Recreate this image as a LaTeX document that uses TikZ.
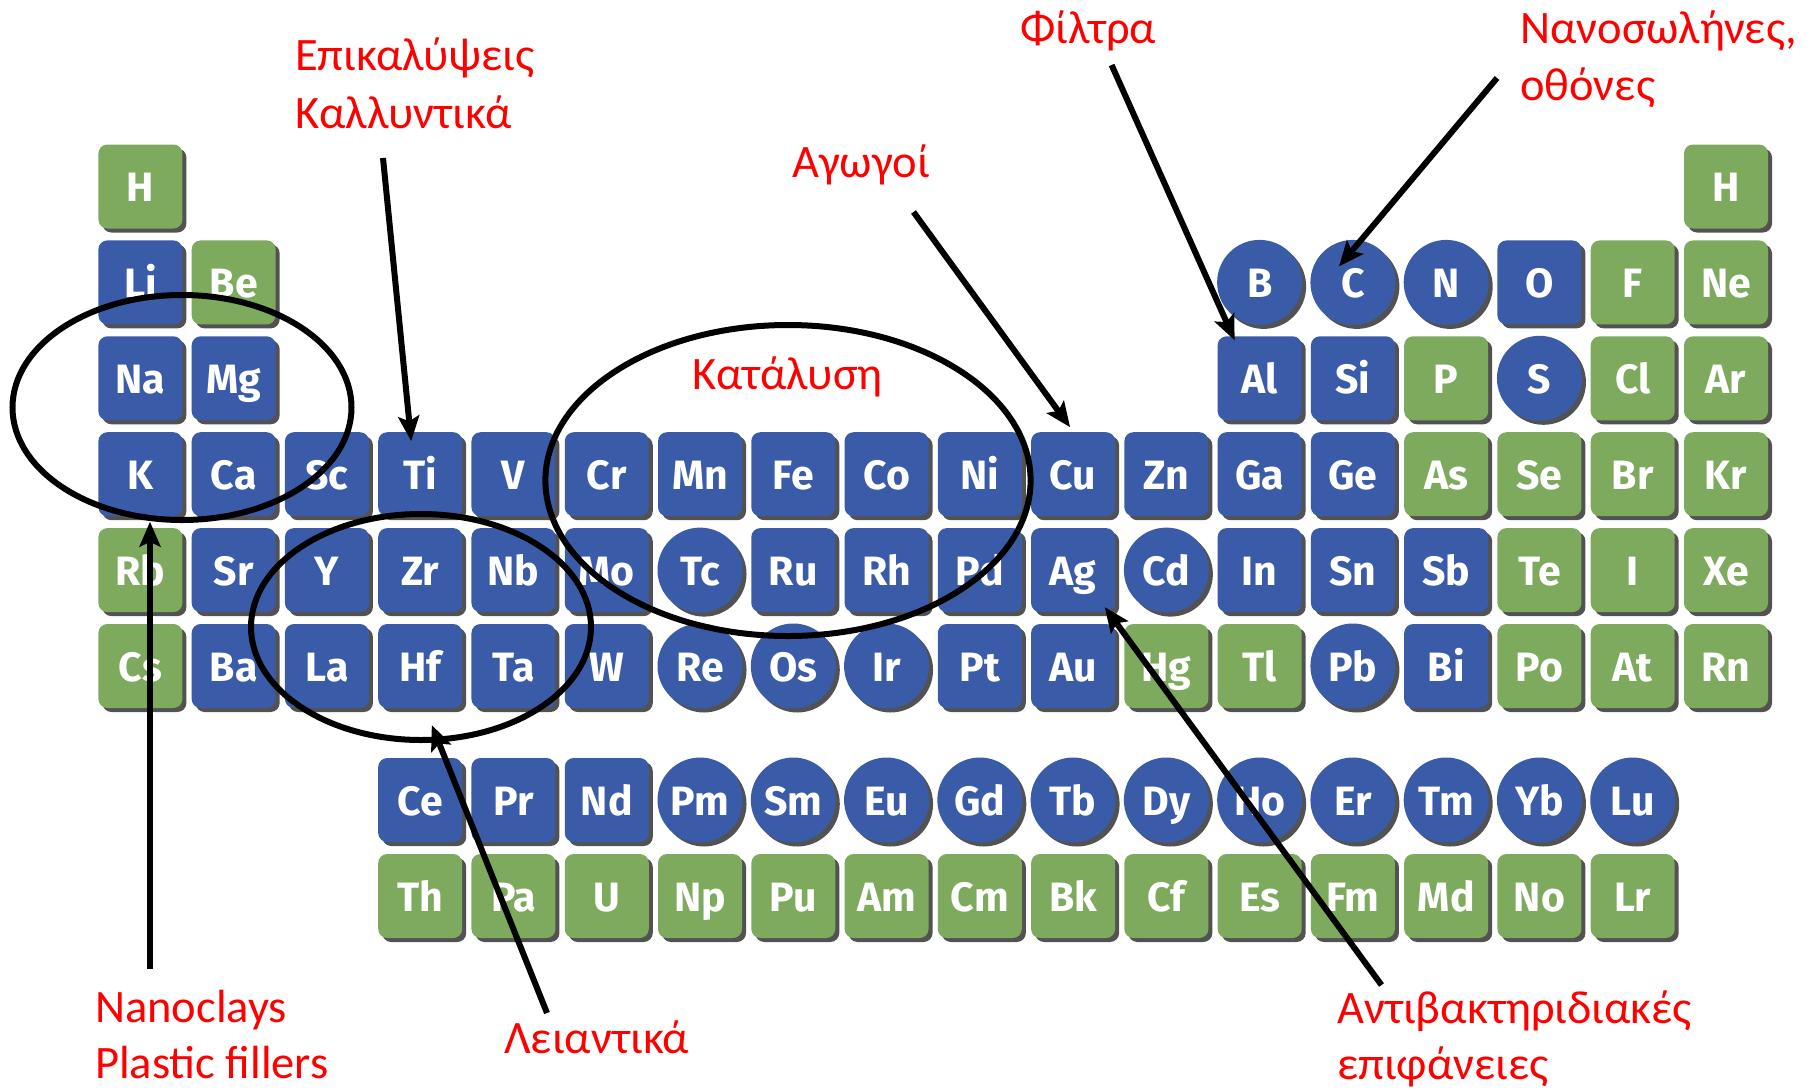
\documentclass[tikz,border=0pt]{standalone}
\usepackage{fontspec}
\newfontfamily\labelfont{Carlito}
\newfontfamily\symfont{Fira Sans}
\usetikzlibrary{shadows,arrows.meta,calc}
\definecolor{tileblue}{RGB}{58,92,168}
\definecolor{tilegreen}{RGB}{125,170,92}
\definecolor{labelred}{RGB}{255,0,0}
\begin{document}
\begin{tikzpicture}[x=1pt,y=-1pt,
  tile/.style={inner sep=0pt, text=white,
    font=\symfont\bfseries\fontsize{41}{41}\selectfont,
    text height=30pt, text depth=0pt,
    drop shadow={shadow xshift=4pt, shadow yshift=-4pt, fill=black!75, opacity=.9}},
  bsq/.style={tile, rectangle, rounded corners=9pt, minimum size=84pt, fill=tileblue},
  gsq/.style={tile, rectangle, rounded corners=9pt, minimum size=84pt, fill=tilegreen},
  bci/.style={tile, circle, minimum size=85pt, fill=tileblue},
  callout/.style={anchor=base west, inner sep=0pt, text=labelred,
    font=\labelfont\fontsize{46.5}{57}\selectfont},
  ring/.style={draw=black, line width=6pt},
  pointer/.style={draw=black, line width=6pt, -{Stealth[length=25pt,width=21pt,inset=5pt]}},
  declare function={colx(\c)=140.4+(\c-1)*93.27;
                    rowy(\r)=ifthenelse(\r<7,186.5+(\r-1)*95.9,800+(\r-7)*96);}
]
% canvas
\fill[white] (0,0) rectangle (1820,1090);
\useasboundingbox (0,0) rectangle (1820,1090);

% green square tiles: symbol/column/row (rows 7 and 8 = f-block)
\foreach \s/\c/\r in {H/1/1, Be/2/2, F/17/2, Ne/18/2, P/15/3, Cl/17/3, Ar/18/3,
    As/15/4, Se/16/4, Br/17/4, Kr/18/4, Rb/1/5, Te/16/5, I/17/5, Xe/18/5,
    Cs/1/6, Hg/12/6, Tl/13/6, Po/16/6, At/17/6, Rn/18/6,
    Th/4/8, Pa/5/8, U/6/8, Np/7/8, Pu/8/8, Am/9/8, Cm/10/8, Bk/11/8,
    Cf/12/8, Es/13/8, Fm/14/8, Md/15/8, No/16/8, Lr/17/8}
  \node[gsq] (\s) at ({colx(\c)},{rowy(\r)}) {\s};
\node[gsq] (H18) at ({colx(18)},{rowy(1)}) {H};

% blue square tiles
\foreach \s/\c/\r in {Li/1/2, O/16/2, Na/1/3, Mg/2/3, Al/13/3, Si/14/3,
    K/1/4, Ca/2/4, Sc/3/4, Ti/4/4, V/5/4, Cr/6/4, Mn/7/4, Fe/8/4, Co/9/4,
    Ni/10/4, Cu/11/4, Zn/12/4, Ga/13/4, Ge/14/4,
    Sr/2/5, Y/3/5, Zr/4/5, Nb/5/5, Mo/6/5, Ru/8/5, Rh/9/5, Pd/10/5, Ag/11/5,
    In/13/5, Sn/14/5, Sb/15/5,
    Ba/2/6, La/3/6, Hf/4/6, Ta/5/6, W/6/6, Pt/10/6, Au/11/6, Bi/15/6,
    Ce/4/7, Pr/5/7, Nd/6/7}
  \node[bsq] (\s) at ({colx(\c)},{rowy(\r)}) {\s};

% blue round tiles
\foreach \s/\c/\r in {B/13/2, C/14/2, N/15/2, S/16/3, Tc/7/5, Cd/12/5,
    Re/7/6, Os/8/6, Ir/9/6, Pb/14/6,
    Pm/7/7, Sm/8/7, Eu/9/7, Gd/10/7, Tb/11/7, Dy/12/7, Ho/13/7, Er/14/7,
    Tm/15/7, Yb/16/7, Lu/17/7}
  \node[bci] (\s) at ({colx(\c)},{rowy(\r)}) {\s};

% groups
\draw[ring] (182,407.5) ellipse (169.5 and 112.5);
\draw[ring] (788,480.5) ellipse (242.6 and 155.5);
\draw[ring] (421,627) ellipse (170 and 113);

% captions
\node[callout] (coat1) at (295,70) {Επικαλύψεις};
\node[callout] (coat2) at (295,128) {Καλλυντικά};
\node[callout] (filt) at (1020,43) {Φίλτρα};
\node[callout] (tube1) at (1520,43) {Νανοσωλήνες,};
\node[callout] (tube2) at (1520,100) {οθόνες};
\node[callout] (cond) at (792,177) {Αγωγοί};
\node[callout] (cat) at (692,389) {Κατάλυση};
\node[callout] (clay1) at (95,1022) {Nanoclays};
\node[callout] (clay2) at (95,1078) {Plastic fillers};
\node[callout] (abr) at (504,1053) {Λειαντικά};
\node[callout] (anti1) at (1337,1023) {Αντιβακτηριδιακές};
\node[callout] (anti2) at (1337,1079) {επιφάνειες};

% pointer tails
\coordinate (tTi) at (383,158);
\coordinate (tCu) at (913.5,212);
\coordinate (tAl) at (1111.6,65);
\coordinate (tC) at (1497,78);
\coordinate (tAg) at (1381.5,985);
\coordinate (tHf) at (547,1013);
\coordinate (tK) at (150,969);

\draw[pointer] (tTi) -- ($(Ti.center)+(-9,-33)$);
\draw[pointer] (tCu) -- ($(Cu.center)+(-3,-47)$);
\draw[pointer] (tAl) -- ($(Al.center)+(-25,-38)$);
\draw[pointer] (tC) -- ($(C.center)+(-14,-16)$);
\draw[pointer] (tAg) -- ($(Ag.center)+(31.6,37)$);
\draw[pointer] (tHf) -- ($(Hf.center)+(11.6,59)$);
\draw[pointer] (tK) -- ($(K.center)+(9.6,47.5)$);
\end{tikzpicture}
\end{document}
